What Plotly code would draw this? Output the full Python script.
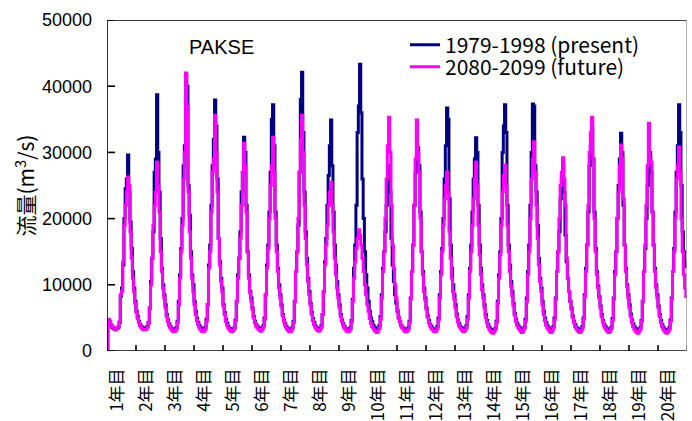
import plotly.graph_objects as go

# Semi-monthly mean discharge (m3/s), 24 values per year, 20 years
present_flow = [
    4400,4100,4500,3900,3600,3400,3300,3200,3400,3600,4300,8300,9500,13000,20000,24500,26000,29600,24000,19500,15500,12000,9500,7500,   # 1
    6000,5200,4500,4000,3700,3500,3400,3400,3500,3700,4300,6500,10500,14000,18000,27000,29000,38700,30000,24000,17000,12500,10000,8500,  # 2
    7000,5500,4700,4100,3700,3400,3200,3100,3200,3500,4500,7500,11500,15500,20000,28000,31000,41700,40000,25000,20500,15000,11500,10000, # 3
    7500,6000,5000,4300,3800,3500,3300,3200,3300,3600,4800,7000,13000,16000,22000,28000,32000,37900,34000,26000,17000,13500,11000,9500,  # 4
    7000,5800,4800,4200,3700,3400,3200,3100,3300,3500,4700,7500,11500,14000,18000,24000,27000,32300,30000,22000,15000,11500,9000,8000,   # 5
    6500,5200,4500,4000,3700,3500,3300,3200,3400,3800,5000,8500,13000,16000,21000,27000,35000,37200,31000,21000,16000,12500,10000,8500,  # 6
    7000,5500,4700,4100,3700,3400,3300,3200,3300,3600,4500,7500,12000,15000,19000,27000,38000,42100,33000,24000,18000,14000,11000,9000,  # 7
    7200,5800,4900,4300,3800,3500,3300,3200,3400,3800,5500,9000,13500,17000,22000,26500,31000,34900,28000,21000,16000,13000,10500,8500,  # 8
    7000,5500,4700,4100,3700,3400,3200,3100,3200,3500,4600,7800,12500,16000,22000,33000,37000,43300,36000,26000,20000,15000,11500,9500,  # 9
    7500,6000,5000,4400,3900,3600,3400,3300,3400,3800,5200,8500,12500,15000,18000,22000,25000,28000,24000,17000,13000,10500,8500,7200,   # 10
    6000,5000,4400,3900,3600,3400,3200,3100,3200,3500,4500,8000,12000,16000,22000,27000,29000,30700,28000,21000,15000,12000,9500,8000,   # 11
    6500,5300,4600,4000,3700,3400,3300,3200,3300,3700,5000,8500,12000,15500,20000,26000,31000,36700,35000,23000,16000,12500,10000,8500,  # 12
    7000,5600,4700,4100,3700,3500,3300,3300,3400,3800,5200,8500,12500,16000,21000,26000,29000,32200,30000,22000,16000,12500,10000,8500,  # 13
    7000,5500,4600,4000,3600,3300,3200,3000,3100,3400,4500,7500,11500,15000,20000,30000,34000,37200,33000,22000,16000,13000,10500,9000,  # 14
    7200,5700,4800,4200,3800,3500,3300,3100,3300,3600,4800,8000,12000,16000,22000,30000,37300,37000,28000,24000,19000,14000,11000,9500,  # 15
    7500,6000,5000,4300,3800,3500,3200,3100,3300,3700,5000,8000,12000,15000,18000,23000,26000,28500,24000,17500,13500,11000,9000,7500,   # 16
    6500,5300,4500,4000,3600,3400,3200,3100,3300,3700,5000,8500,12500,16000,21000,28000,31000,33700,29000,21000,15500,12000,9800,8200,   # 17
    6800,5500,4600,4000,3700,3400,3200,3100,3300,3600,4900,8000,12000,15000,20000,25000,29000,32900,30000,22000,16000,12500,10000,8500,  # 18
    7000,5600,4700,4100,3700,3400,3200,3000,3200,3500,4600,7500,12000,15500,20000,25000,28000,30000,27000,21000,16000,12500,10000,8500,  # 19
    6800,5500,4600,4000,3600,3300,3100,3000,3200,3500,4700,8000,12000,15500,21000,27000,31000,37200,33000,25000,18000,15000,13500,12500, # 20
]

future_flow = [
    0,4800,4500,4000,3700,3500,3300,3200,3400,3700,4400,8500,9000,13500,19000,22000,24000,26300,25000,18000,14000,11000,9000,7200,      # 1
    5800,4900,4300,3800,3500,3300,3200,3200,3300,3600,4200,6500,10000,14000,19000,22000,24000,28500,25000,21000,15000,12000,9500,8000,  # 2
    6500,5200,4400,3900,3500,3200,3000,2900,3000,3300,4300,7000,11000,15000,19000,26000,30000,42000,37000,24000,18000,14000,11000,9000,  # 3
    7000,5500,4600,4000,3500,3200,3000,2900,3000,3300,4500,7000,12500,15000,21000,27000,29000,35600,30000,24000,17000,13000,10500,9000,  # 4
    6800,5500,4500,3900,3500,3200,3000,2900,3100,3400,4600,7500,11000,14000,17000,22000,27000,31400,28000,21000,15000,11000,8800,7500,   # 5
    6300,5000,4300,3800,3500,3300,3100,3000,3200,3600,4800,8500,12500,15500,20000,25000,28000,32300,27000,20000,15000,12000,9500,8000,  # 6
    6700,5300,4500,3900,3500,3200,3000,2900,3000,3400,4300,7500,12000,15000,20000,27000,32000,35600,30000,22000,17000,13000,10500,8500,  # 7
    7000,5500,4600,4000,3600,3300,3100,3000,3200,3600,5500,9000,13000,16000,19000,22000,24000,25500,22000,18000,14000,11500,9500,8000,   # 8
    6500,5200,4400,3900,3500,3200,3000,2900,3000,3300,4400,7500,11000,13500,15500,17000,18300,17500,16000,14000,12000,10000,8500,7000,   # 9
    6000,4900,4200,3700,3400,3100,2900,2800,3000,3400,4800,8000,12000,15000,20000,26000,31000,35300,30000,22000,16000,12500,10000,8000,  # 10
    6200,5100,4400,3800,3500,3200,3000,2900,3000,3300,4300,7800,12000,16000,22000,29000,34900,30000,27000,20000,15000,11500,9000,7700,   # 11
    6300,5100,4300,3800,3400,3200,3000,2900,3000,3400,4700,8000,11500,15000,19000,23000,25000,27000,24000,18000,14000,11000,9000,7800,   # 12
    6500,5200,4400,3800,3500,3200,3000,2900,3100,3500,4800,8000,12000,15000,19000,23000,26000,28500,25000,19000,14500,11500,9300,8000,   # 13
    6500,5100,4300,3700,3300,3000,2800,2700,2900,3300,4300,7200,11000,14500,19000,24000,26500,28100,25000,19000,15000,12000,9800,8300,   # 14
    6800,5400,4500,3900,3500,3200,3000,2800,3000,3400,4500,7500,11500,15000,20000,26000,29000,31600,27000,22000,17000,13000,10500,9000,  # 15
    7000,5500,4600,3900,3500,3200,3000,2800,3000,3400,4700,7800,12000,15000,20000,25000,27000,29200,26000,22000,14000,11000,9000,7500,   # 16
    6300,5100,4300,3700,3400,3100,2900,2800,3000,3400,4800,8200,12000,16000,22000,30000,33000,35300,29000,20000,15000,11500,9500,8000,   # 17
    6500,5200,4400,3800,3400,3100,2900,2800,3000,3400,4600,7800,11500,15000,20000,24000,28000,31100,29000,23000,16000,12000,9700,8000,   # 18
    6500,5200,4300,3700,3300,3000,2800,2700,2900,3300,4500,7500,12000,16000,22000,28000,34400,29000,28500,21000,16000,12000,9600,8000,   # 19
    6500,5200,4300,3700,3300,3000,2800,2700,2900,3300,4500,7800,12000,15000,20000,26000,28000,30800,27000,20000,15000,11500,9500,8000,   # 20
]

year_labels = [f"{k}年目" for k in range(1, 21)]
y_tick_values = [0, 10000, 20000, 30000, 40000, 50000]
y_tick_labels = ["0", "10000", "20000", "30000", "40000", "50000"]
series_names = ["1979-1998 (present)", "2080-2099 (future)"]

BINS_PER_YEAR = 24
n_years = len(year_labels)
X_MAX = n_years * BINS_PER_YEAR
Y_MAX = y_tick_values[-1]
x_index = list(range(len(present_flow)))

fig = go.Figure()
fig.add_trace(go.Scatter(x=x_index, y=present_flow, mode="lines", name=series_names[0],
                         legend="legend",
                         line=dict(color="#000080", width=3, shape="hv")))
fig.add_trace(go.Scatter(x=x_index, y=future_flow, mode="lines", name=series_names[1],
                         legend="legend2",
                         line=dict(color="#FF00FF", width=3, shape="hv")))

# --- plot frame and tick marks (drawn as thin line traces) ---
PLOT_W_PX, PLOT_H_PX = 580, 331
xtick_len = 6 / PLOT_H_PX * Y_MAX
ytick_len = 8 / PLOT_W_PX * X_MAX
boundaries = [k * BINS_PER_YEAR for k in range(n_years + 1)]
fx, fy = [], []
for b in boundaries:
    fx += [b, b, None]
    fy += [0, xtick_len, None]
for v in y_tick_values:
    fx += [0, ytick_len, None]
    fy += [v, v, None]
fx += [0, 0, None, 0, X_MAX, None, 0, X_MAX]
fy += [0, Y_MAX, None, 0, 0, None, Y_MAX, Y_MAX]
fig.add_trace(go.Scatter(x=fx, y=fy, mode="lines", showlegend=False, hoverinfo="skip",
                         cliponaxis=False, line=dict(color="black", width=1.6)))
fig.add_trace(go.Scatter(x=[X_MAX, X_MAX], y=[0, Y_MAX], mode="lines", showlegend=False,
                         hoverinfo="skip", cliponaxis=False,
                         line=dict(color="#a0a0a0", width=1.6)))

latin = "Arial, 'Liberation Sans', sans-serif"
cjk = "'Noto Sans CJK JP', 'Noto Sans CJK SC', sans-serif"

legend_common = dict(x=0.5138, xanchor="left", yanchor="middle",
                     bgcolor="rgba(0,0,0,0)", borderwidth=0,
                     font=dict(family=cjk, size=21, color="black"), itemwidth=30)

fig.update_layout(
    width=692, height=421,
    margin=dict(l=107, r=5, t=20, b=70),
    paper_bgcolor="white", plot_bgcolor="white",
    showlegend=True,
    legend=dict(y=0.9245, **legend_common),
    legend2=dict(y=0.858, **legend_common),
    xaxis=dict(range=[0, X_MAX], showgrid=False, zeroline=False, showline=False,
               tickmode="array", tickvals=boundaries, ticktext=year_labels + [""],
               ticks="", tickangle=-90, ticklabelstandoff=13, ticklabelshift=10,
               tickfont=dict(family=cjk, size=17, color="black"),
               automargin=False),
    yaxis=dict(range=[0, Y_MAX], showgrid=False, zeroline=False, showline=False,
               tickmode="array", tickvals=y_tick_values, ticktext=y_tick_labels,
               ticks="", ticklabelstandoff=14,
               tickfont=dict(family=latin, size=18, color="black"),
               automargin=False),
    annotations=[
        dict(text="PAKSE", xref="paper", yref="paper", x=0.197, y=0.918,
             xanchor="center", yanchor="middle",
             showarrow=False, font=dict(family=latin, size=20, color="black")),
        dict(text="流量(m<sup>3</sup>/s)", xref="paper", yref="paper", x=-0.143, y=0.5,
             xanchor="center", yanchor="middle",
             textangle=-90, showarrow=False,
             font=dict(family=cjk, size=21, color="black")),
    ],
)

page_fix = "document.body.style.margin='0';document.body.style.padding='0';"

fig.write_html("out.html", post_script=page_fix, config={"displayModeBar": False})
